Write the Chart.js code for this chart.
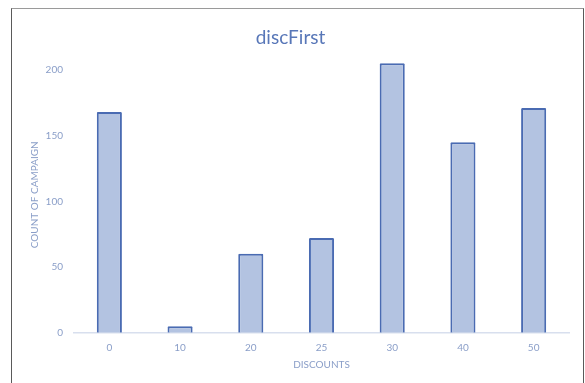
<!DOCTYPE html>
<html>
<head>
<meta charset="utf-8">
<script src="https://cdn.jsdelivr.net/npm/chart.js@4/dist/chart.umd.min.js"></script>
<style>
  html, body { margin: 0; padding: 0; background: #ffffff; }
  body { width: 585px; height: 383px; position: relative; overflow: hidden; }
  #frame {
    position: absolute; left: 11px; top: 8px;
    width: 571px; height: 380px;
    border-left: 1.5px solid #5a5a5a;
    border-right: 1.5px solid #5a5a5a;
    border-top: 1.5px solid #9a9a9a;
    box-sizing: content-box;
  }
  #wrap { position: absolute; left: 0; top: 0; width: 571px; height: 374px; }
</style>
</head>
<body>
<div id="frame">
  <div id="wrap"><canvas id="c" width="571" height="374"></canvas></div>
</div>
<script>
// Campaign counts by first-order discount
const discounts = ['0', '10', '20', '25', '30', '40', '50'];
const campaignCounts = [168, 5, 60, 72, 205, 145, 171];
const yTicks = [0, 50, 100, 150, 200];

const labelColor = '#8a9ec8';
const titleColor = '#5877b8';

new Chart(document.getElementById('c'), {
  type: 'bar',
  data: {
    labels: discounts,
    datasets: [{
      label: 'Count of campaign',
      data: campaignCounts,
      backgroundColor: '#b3c3e1',
      borderColor: '#4a6bb2',
      borderWidth: 2,
      borderRadius: 1,
      barPercentage: 0.355,
      categoryPercentage: 1.0
    }]
  },
  options: {
    responsive: false,
    animation: false,
    layout: { padding: { left: 0, right: 14, top: 0, bottom: 0 } },
    plugins: {
      legend: { display: false },
      tooltip: { enabled: false },
      title: {
        display: true,
        text: 'discFirst',
        color: titleColor,
        font: { family: 'Lato', size: 19, weight: 'normal' },
        padding: { top: 17, bottom: 8 }
      }
    },
    scales: {
      x: {
        grid: { display: true, drawOnChartArea: false, drawTicks: false },
        border: { display: true, color: '#d8dfee', width: 1.5 },
        ticks: {
          color: labelColor,
          padding: 9,
          font: { family: 'Lato', size: 10 }
        },
        title: {
          display: true,
          text: 'DISCOUNTS',
          color: labelColor,
          font: { family: 'Lato', size: 10 },
          padding: { top: 0, bottom: 12 }
        },
        afterFit: (s) => { s.height = 50.3; }
      },
      y: {
        min: 0,
        max: 210,
        grid: { display: false, drawTicks: false },
        border: { display: false },
        ticks: {
          stepSize: 50,
          color: labelColor,
          padding: 11,
          font: { family: 'Lato', size: 10 }
        },
        afterBuildTicks: (s) => {
          s.ticks = yTicks.map(v => ({ value: v }));
        },
        title: {
          display: true,
          text: 'COUNT OF CAMPAIGN',
          color: labelColor,
          font: { family: 'Lato', size: 10 },
          padding: { top: 17, bottom: 0 }
        },
        afterFit: (s) => { s.width = 62; }
      }
    }
  }
});
</script>
</body>
</html>
